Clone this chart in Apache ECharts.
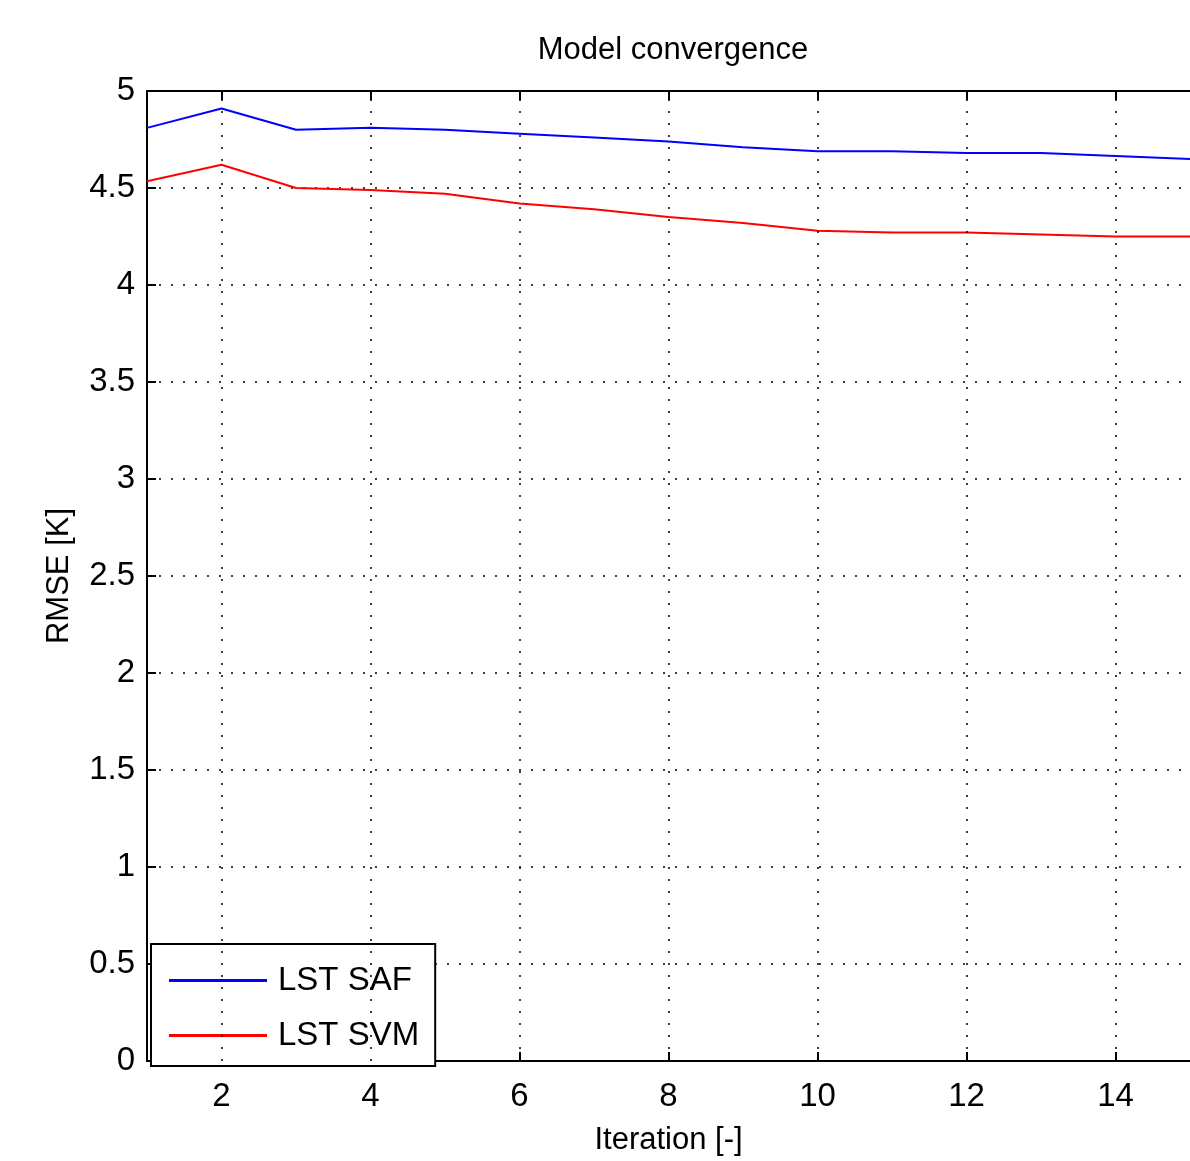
<!DOCTYPE html>
<html>
<head>
<meta charset="UTF-8">
<title>Model convergence</title>
<script src="https://cdn.jsdelivr.net/npm/echarts@6.0.0/dist/echarts.min.js"></script>
<style>
  body { margin: 0; background: #fff; }
  #chart { width: 1190px; height: 1161px; }
</style>
</head>
<body>
<div id="chart"></div>
<script>
// iteration index and RMSE values
var iterations = [1, 2, 3, 4, 5, 6, 7, 8, 9, 10, 11, 12, 13, 14, 15];
var lstSaf = [4.81, 4.91, 4.80, 4.81, 4.80, 4.78, 4.76, 4.74, 4.71, 4.69, 4.69, 4.68, 4.68, 4.665, 4.65];
var lstSvm = [4.535, 4.62, 4.50, 4.49, 4.47, 4.42, 4.39, 4.35, 4.32, 4.28, 4.27, 4.27, 4.26, 4.25, 4.25];
var xTicks = [2, 4, 6, 8, 10, 12, 14];

var font = 'Liberation Sans';
var chart = echarts.init(document.getElementById('chart'));

function pairs(vals) {
  return iterations.map(function (x, i) { return [x, vals[i]]; });
}

var dotted = { color: '#000', width: 1.5, type: [2, 10] };

chart.setOption({
  animation: false,
  title: {
    text: 'Model convergence',
    left: 668, top: 30, textAlign: 'center',
    textStyle: { fontFamily: font, fontSize: 31, fontWeight: 'normal', color: '#000' }
  },
  grid: { left: 147, right: -2, top: 91, bottom: 95 },
  legend: {
    left: 151, bottom: 95, orient: 'vertical',
    backgroundColor: '#fff',
    borderColor: '#000', borderWidth: 2, borderRadius: 0,
    padding: [20, 16, 14, 18],
    itemWidth: 98, itemHeight: 3, itemGap: 22,
    icon: 'rect',
    textStyle: { fontFamily: font, fontSize: 33, color: '#000', padding: [0, 0, 0, 6] },
    data: ['LST SAF', 'LST SVM']
  },
  xAxis: [{
    type: 'value', min: 1, max: 15,
    name: 'Iteration [-]', nameLocation: 'middle', nameGap: 64,
    nameTextStyle: { fontFamily: font, fontSize: 31, color: '#000' },
    axisLine: { lineStyle: { color: '#000', width: 2 } },
    axisTick: { inside: true, length: 9, lineStyle: { color: '#000', width: 2 }, customValues: xTicks },
    axisLabel: { fontFamily: font, fontSize: 33, color: '#000', margin: 19, customValues: xTicks },
    splitLine: { show: false }
  }, {
    type: 'value', min: 1, max: 15, position: 'top',
    axisLine: { onZero: false, lineStyle: { color: '#000', width: 2 } },
    axisTick: { inside: true, length: 9, lineStyle: { color: '#000', width: 2 }, customValues: xTicks },
    axisLabel: { show: false },
    splitLine: { show: false }
  }],
  yAxis: {
    type: 'value', min: 0, max: 5, interval: 0.5,
    name: 'RMSE [K]', nameLocation: 'middle', nameGap: 72,
    nameTextStyle: { fontFamily: font, fontSize: 31, color: '#000' },
    axisLine: { show: true, lineStyle: { color: '#000', width: 2 } },
    axisTick: { show: true, inside: true, length: 9, lineStyle: { color: '#000', width: 2 } },
    axisLabel: { fontFamily: font, fontSize: 33, color: '#000', margin: 12 },
    splitLine: { show: true, lineStyle: dotted }
  },
  series: [{
    name: 'LST SAF', type: 'line', data: pairs(lstSaf),
    symbol: 'none', color: '#0000ff', lineStyle: { color: '#0000ff', width: 2 },
    markLine: {
      silent: true, symbol: 'none', label: { show: false },
      lineStyle: dotted,
      data: xTicks.map(function (v) { return { xAxis: v }; })
    }
  }, {
    name: 'LST SVM', type: 'line', data: pairs(lstSvm),
    symbol: 'none', color: '#ff0000', lineStyle: { color: '#ff0000', width: 2 }
  }]
});
</script>
</body>
</html>
